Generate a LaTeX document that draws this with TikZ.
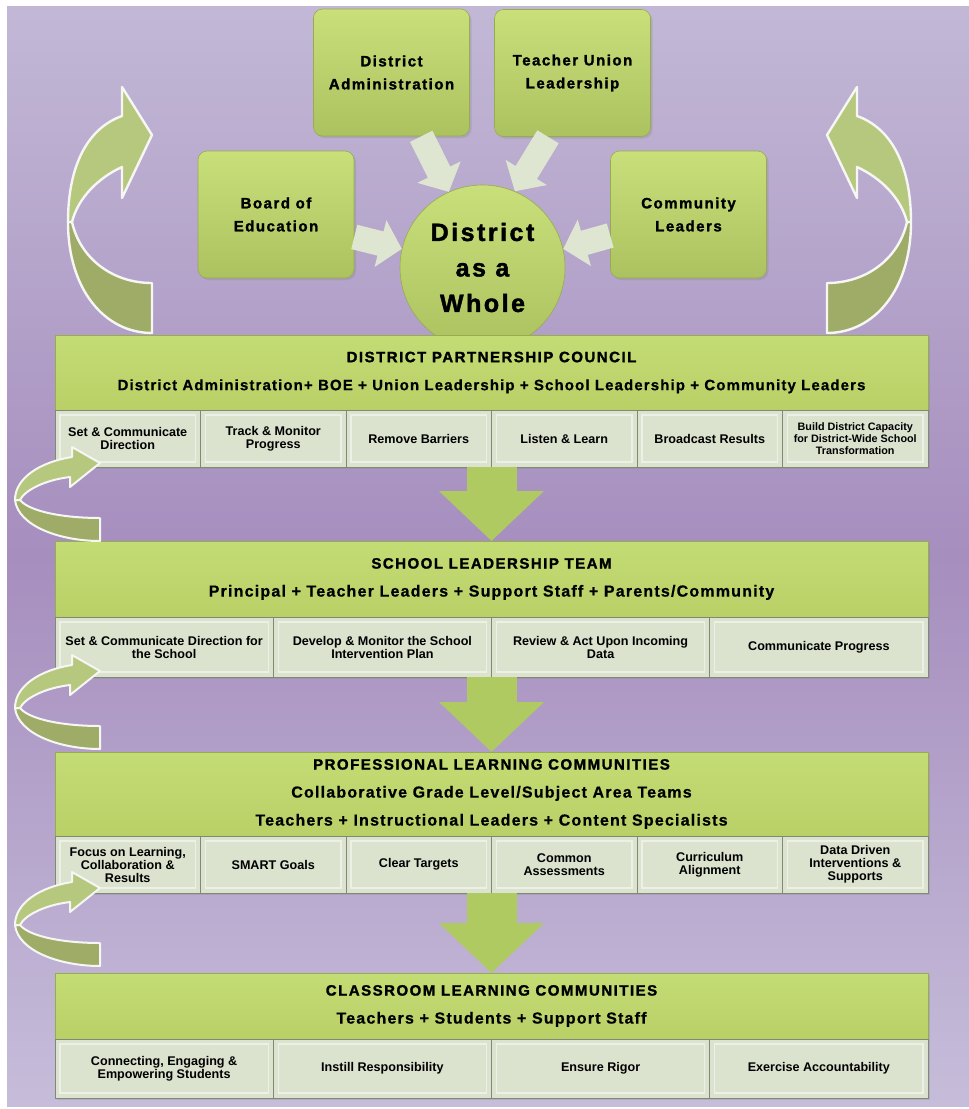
\documentclass[tikz,border=0pt]{standalone}
\usepackage{fontspec}
\setmainfont{Liberation Sans}
\newfontfamily\widefont[LetterSpace=10, FakeBold=1.6]{Liberation Sans}
\newfontfamily\spacedfont[LetterSpace=7.5, FakeBold=0.6]{Liberation Sans}
\usepackage{tikz}
\usetikzlibrary{arrows.meta, positioning, shadows}
\definecolor{bgtop}{RGB}{194,184,214}
\definecolor{bgmid}{RGB}{166,142,190}
\definecolor{bgbot}{RGB}{198,189,218}
\definecolor{grntop}{RGB}{201,223,122}
\definecolor{grnbot}{RGB}{172,194,96}
\definecolor{grnedge}{RGB}{150,172,78}
\definecolor{hdrtop}{RGB}{196,220,116}
\definecolor{hdrbot}{RGB}{184,208,102}
\definecolor{cellfill}{RGB}{219,226,206}
\definecolor{celledge}{RGB}{128,136,118}
\definecolor{feedgrey}{RGB}{222,230,210}
\definecolor{flowgrn}{RGB}{176,202,98}
\definecolor{loopup}{RGB}{182,200,126}
\definecolor{loopdn}{RGB}{158,172,104}
\definecolor{loopedge}{RGB}{246,246,244}
\tikzset{
  topbox/.style={rectangle, rounded corners=9pt, top color=grntop, bottom color=grnbot,
    draw=grnedge, line width=0.6pt, minimum width=156pt, minimum height=127pt,
    align=center, font=\widefont\bfseries\fontsize{15}{23}\selectfont,
    drop shadow={opacity=0.25, shadow xshift=2pt, shadow yshift=-2pt}},
  wholecirc/.style={circle, minimum size=165pt, inner sep=0pt, top color=grntop,
    bottom color=grnbot, draw=grnedge, line width=0.6pt, align=center,
    font=\widefont\bfseries\fontsize{25}{35.5}\selectfont},
  header/.style={rectangle, top color=hdrtop, bottom color=hdrbot, draw=grnedge,
    line width=0.6pt, minimum width=873pt, anchor=north west, outer sep=0pt,
    align=center, font=\bfseries\fontsize{16}{28}\selectfont,
    drop shadow={opacity=0.25, shadow xshift=2pt, shadow yshift=-2pt}},
  cellsix/.style={rectangle, fill=cellfill, draw=celledge, line width=0.6pt,
    minimum width=145.5pt, outer sep=0pt, inner sep=2pt, align=center,
    font=\bfseries\fontsize{12.6}{13}\selectfont,
    drop shadow={opacity=0.25, shadow xshift=2pt, shadow yshift=-2pt},
    path picture={\draw[white, opacity=0.5, line width=1.2pt]
      ([shift={(5pt,-5pt)}]path picture bounding box.north west) rectangle
      ([shift={(-5pt,5pt)}]path picture bounding box.south east);}},
  cellfour/.style={cellsix, minimum width=218.25pt},
  feed/.style={draw=feedgrey, line width=25pt, -{Triangle[width=47pt, length=22pt]}},
  flow/.style={draw=flowgrn, line width=50pt, -{Triangle[width=102pt, length=50pt]}},
  bigloop/.style={draw=loopedge, line width=2.4pt, line join=round},
  smallloop/.style={draw=loopedge, line width=2pt, line join=round}
}

\begin{document}
\begin{tikzpicture}[x=1pt, y=-1pt]
  \useasboundingbox (0,0) rectangle (969,1109);
  % Background
  \fill[top color=bgtop, bottom color=bgbot, middle color=bgmid] (7,6) rectangle (969,1106);

  % Big turning arrows beside the top
  \draw[bigloop, fill=loopdn] (68,222) .. controls (68,290) and (105,333) .. (152,333)
    -- (152,283) .. controls (112,283) and (80,258) .. (72,222) -- cycle;
  \draw[bigloop, fill=loopup] (68,222) .. controls (68,165) and (88,128) .. (122,116)
    -- (122,87) -- (152,135) -- (122,198) -- (122,167)
    .. controls (98,178) and (78,198) .. (72,222) -- cycle;
  \begin{scope}[xshift=979pt, xscale=-1]
    \draw[bigloop, fill=loopdn] (68,222) .. controls (68,290) and (105,333) .. (152,333)
      -- (152,283) .. controls (112,283) and (80,258) .. (72,222) -- cycle;
    \draw[bigloop, fill=loopup] (68,222) .. controls (68,165) and (88,128) .. (122,116)
      -- (122,87) -- (152,135) -- (122,198) -- (122,167)
      .. controls (98,178) and (78,198) .. (72,222) -- cycle;
  \end{scope}

  % Top boxes
  \node[topbox] (dadm) at (391.5,72.5) {District\\Administration};
  \node[topbox] (tul) at (572.5,73) {Teacher Union\\Leadership};
  \node[topbox] (boe) at (276,214.5) {Board of\\Education};
  \node[topbox] (cl) at (688.5,214.5) {Community\\Leaders};
  \node[wholecirc] (daw) at (482.5,267.5) {District\\as a\\Whole};

  \draw[feed] (boe.-16) -- (daw.167);
  \draw[feed] (dadm.-65) -- (daw.114);
  \draw[feed] (tul.-111) -- (daw.67);
  \draw[feed] (cl.195) -- (daw.13);

  % District partnership council
  \node[header, minimum height=75pt] (dpc) at (55,335)
    {{\widefont\fontsize{15}{28}\selectfont DISTRICT PARTNERSHIP COUNCIL}\\
     {\spacedfont\fontsize{15}{28}\selectfont District Administration+ BOE + Union Leadership + School Leadership + Community Leaders}};
  \node[cellsix, minimum height=57pt, anchor=north west] (dpc1) at (dpc.south west) {Set \& Communicate\\Direction};
  \node[cellsix, minimum height=57pt, right=0pt of dpc1] (dpc2) {Track \& Monitor\\Progress};
  \node[cellsix, minimum height=57pt, right=0pt of dpc2] (dpc3) {Remove Barriers};
  \node[cellsix, minimum height=57pt, right=0pt of dpc3] (dpc4) {Listen \& Learn};
  \node[cellsix, minimum height=57pt, right=0pt of dpc4] (dpc5) {Broadcast Results};
  \node[cellsix, minimum height=57pt, right=0pt of dpc5, font=\bfseries\fontsize{10.8}{12}\selectfont] (dpc6)
    {Build District Capacity\\for District-Wide School\\Transformation};

  % School leadership team
  \node[header, minimum height=76pt] (slt) at (55,541)
    {{\widefont\fontsize{15}{28}\selectfont SCHOOL LEADERSHIP TEAM}\\
     {\spacedfont Principal + Teacher Leaders + Support Staff + Parents/Community}};
  \node[cellfour, minimum height=60pt, anchor=north west] (slt1) at (slt.south west) {Set \& Communicate Direction for\\the School};
  \node[cellfour, minimum height=60pt, right=0pt of slt1] (slt2) {Develop \& Monitor the School\\Intervention Plan};
  \node[cellfour, minimum height=60pt, right=0pt of slt2] (slt3) {Review \& Act Upon Incoming\\Data};
  \node[cellfour, minimum height=60pt, right=0pt of slt3] (slt4) {Communicate Progress};

  % Professional learning communities
  \node[header, minimum height=84pt] (plc) at (55,752)
    {{\widefont\fontsize{15}{28}\selectfont PROFESSIONAL LEARNING COMMUNITIES}\\
     {\spacedfont Collaborative Grade Level/Subject Area Teams}\\
     {\spacedfont Teachers + Instructional Leaders + Content Specialists}};
  \node[cellsix, minimum height=57pt, anchor=north west] (plc1) at (plc.south west) {Focus on Learning,\\Collaboration \&\\Results};
  \node[cellsix, minimum height=57pt, right=0pt of plc1] (plc2) {SMART Goals};
  \node[cellsix, minimum height=57pt, right=0pt of plc2] (plc3) {Clear Targets};
  \node[cellsix, minimum height=57pt, right=0pt of plc3] (plc4) {Common\\Assessments};
  \node[cellsix, minimum height=57pt, right=0pt of plc4] (plc5) {Curriculum\\Alignment};
  \node[cellsix, minimum height=57pt, right=0pt of plc5] (plc6) {Data Driven\\Interventions \&\\Supports};

  % Classroom learning communities
  \node[header, minimum height=66pt] (clc) at (55,973)
    {{\widefont\fontsize{15}{28}\selectfont CLASSROOM LEARNING COMMUNITIES}\\
     {\spacedfont Teachers + Students + Support Staff}};
  \node[cellfour, minimum height=59pt, anchor=north west] (clc1) at (clc.south west) {Connecting, Engaging \&\\Empowering Students};
  \node[cellfour, minimum height=59pt, right=0pt of clc1] (clc2) {Instill Responsibility};
  \node[cellfour, minimum height=59pt, right=0pt of clc2] (clc3) {Ensure Rigor};
  \node[cellfour, minimum height=59pt, right=0pt of clc3] (clc4) {Exercise Accountability};

  % Flow between levels
  \draw[flow] (dpc.center |- dpc1.south) -- (slt.north);
  \draw[flow] (slt.center |- slt1.south) -- (plc.north);
  \draw[flow] (plc.center |- plc1.south) -- (clc.north);

  % Small turning arrows on the left
  \foreach \dy in {0,208,425} {
    \begin{scope}[shift={(0,\dy)}]
      \draw[smallloop, fill=loopdn] (15,500) .. controls (18,526) and (60,541) .. (100,541)
        -- (100,518) .. controls (65,518) and (30,512) .. (20,500) -- cycle;
      \draw[smallloop, fill=loopup] (15,500) .. controls (15,478) and (40,462) .. (72,457)
        -- (72,447) -- (100,463) -- (70,487) -- (70,477)
        .. controls (45,480) and (25,490) .. (20,500) -- cycle;
    \end{scope}
  }
\end{tikzpicture}
\end{document}
